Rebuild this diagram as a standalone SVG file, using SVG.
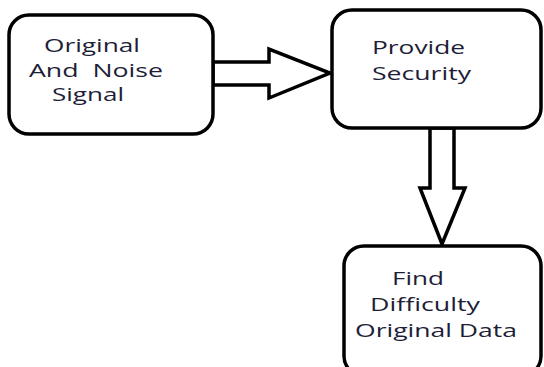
<svg xmlns="http://www.w3.org/2000/svg" width="544" height="367" viewBox="0 0 544 367">
<style>
.box{fill:#fff;stroke:#000;stroke-width:3.5}
.arr{fill:#fff;stroke:#000;stroke-width:3.5;stroke-linejoin:miter}
.t{font-family:"Open Sans","Liberation Sans",sans-serif;font-size:18.5px;fill:#1e1e38;white-space:pre}
</style>
<rect width="544" height="367" fill="#fff"/>
<g id="connectors">
<polygon class="arr" points="213,62 269,62 269,49 330,73 269,98 269,85 213,85"/>
<polygon class="arr" points="430,128 454,128 454,188 465,188 442,244 420,188 430,188"/>
</g>
<g id="node1">
<rect class="box" x="9" y="15" width="204" height="119" rx="20"/>
<text class="t" x="44" y="52" textLength="96" lengthAdjust="spacingAndGlyphs">Original</text>
<text class="t" x="29" y="77" textLength="134" lengthAdjust="spacingAndGlyphs" xml:space="preserve">And  Noise</text>
<text class="t" x="52" y="101" textLength="72" lengthAdjust="spacingAndGlyphs">Signal</text>
</g>
<g id="node2">
<rect class="box" x="332" y="10" width="209" height="118" rx="20"/>
<text class="t" x="372" y="54" textLength="93" lengthAdjust="spacingAndGlyphs">Provide</text>
<text class="t" x="372" y="80" textLength="99" lengthAdjust="spacingAndGlyphs">Security</text>
</g>
<g id="node3">
<rect class="box" x="344" y="246" width="197" height="130" rx="20"/>
<text class="t" x="392" y="285" textLength="52" lengthAdjust="spacingAndGlyphs">Find</text>
<text class="t" x="370" y="311" textLength="110" lengthAdjust="spacingAndGlyphs">Difficulty</text>
<text class="t" x="355" y="337" textLength="162" lengthAdjust="spacingAndGlyphs">Original Data</text>
</g>
</svg>
